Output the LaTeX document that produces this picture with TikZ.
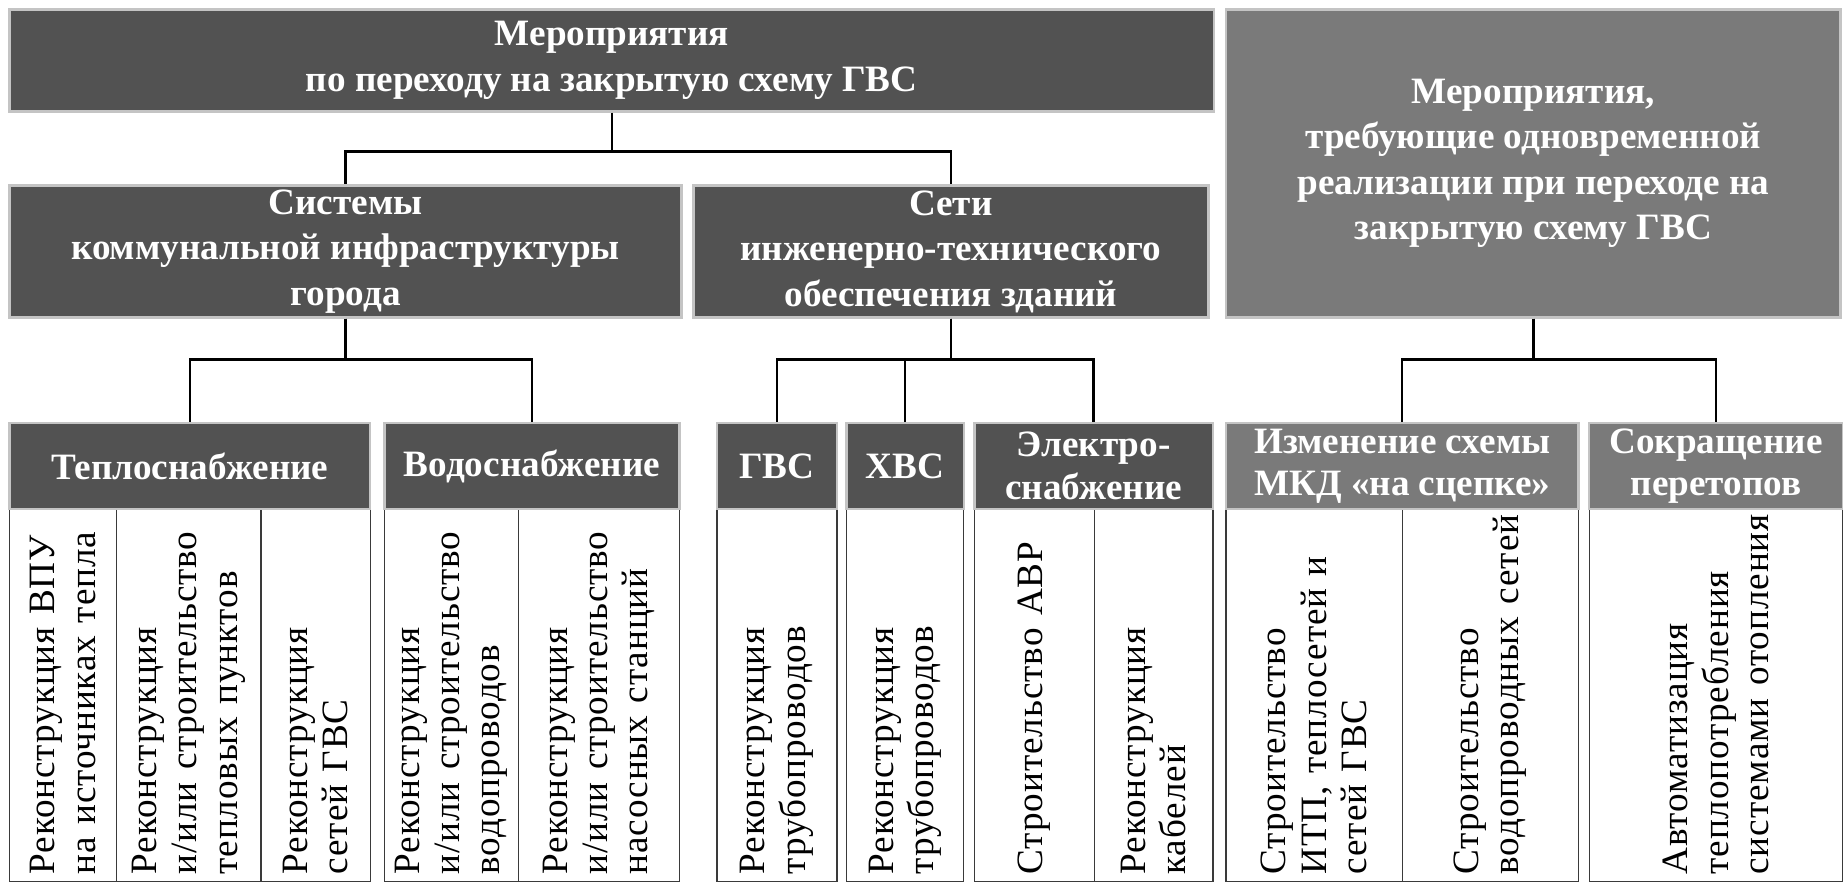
\documentclass[tikz,border=0pt]{standalone}
\usepackage{fontspec}
\setmainfont{Liberation Serif}
\newfontfamily\spacedserif[LetterSpace=2.5]{Liberation Serif}
\usepackage{xcolor}

\definecolor{boxdark}{HTML}{525252}
\definecolor{boxgrey}{HTML}{7A7A7A}
\definecolor{boxrim}{HTML}{C4C4C4}
\definecolor{colline}{HTML}{3A3A3A}

\tikzset{
	mainbox/.style={rectangle, fill=boxdark, draw=boxrim, line width=1.2pt, text=white, align=center, inner sep=0pt, font=\bfseries\fontsize{18}{22}\selectfont},
	subbox/.style={mainbox, minimum height=1.46cm, font=\bfseries\fontsize{18}{20.5}\selectfont},
	taskcol/.style={rectangle, draw=colline, line width=0.6pt, fill=white, rotate=90, minimum width=6.34cm, inner xsep=0.12cm, inner ysep=0pt, text width=6.1cm, align=left, font=\spacedserif\fontsize{18}{19.5}\selectfont},
	link/.style={line width=1.2pt},
}

\begin{document}
\begin{tikzpicture}
	\useasboundingbox (0, 0) rectangle (31.36, 15);

	% Top level
	\node[mainbox, minimum width=20.5cm, minimum height=1.74cm] (top) at (10.41, 13.97) {Мероприятия\\по переходу на закрытую схему ГВС};
	\node[mainbox, fill=boxgrey, minimum width=10.46cm, minimum height=5.24cm] (extra) at (26.09, 12.22) {Мероприятия,\\требующие одновременной\\реализации при переходе на\\закрытую схему ГВС};

	% Second level
	\node[mainbox, minimum width=11.44cm, minimum height=2.24cm] (sys) at (5.88, 10.72) {Системы\\коммунальной инфраструктуры\\города};
	\node[mainbox, minimum width=8.76cm, minimum height=2.24cm] (net) at (16.18, 10.72) {Сети\\инженерно-технического\\обеспечения зданий};

	% Columns of measures
	\node[taskcol, minimum height=1.82cm] (t1) at (1.07, 3.17) {Реконструкция~ВПУ\\на~источниках~тепла};
	\node[taskcol, minimum height=2.46cm] (t2) at (3.21, 3.17) {Реконструкция\\и/или~строительство\\тепловых~пунктов};
	\node[taskcol, minimum height=1.86cm] (t3) at (5.37, 3.17) {Реконструкция\\сетей~ГВС};
	\node[taskcol, minimum height=2.28cm] (v1) at (7.68, 3.17) {Реконструкция\\и/или~строительство\\водопроводов};
	\node[taskcol, minimum height=2.74cm] (v2) at (10.19, 3.17) {Реконструкция\\и/или~строительство\\насосных~станций};
	\node[taskcol, minimum height=2.04cm] (g1) at (13.22, 3.17) {Реконструкция\\трубопроводов};
	\node[taskcol, minimum height=2.00cm] (h1) at (15.40, 3.17) {Реконструкция\\трубопроводов};
	\node[taskcol, minimum height=2.04cm] (e1) at (17.60, 3.17) {Строительство~АВР};
	\node[taskcol, minimum height=2.02cm] (e2) at (19.63, 3.17) {Реконструкция\\кабелей};
	\node[taskcol, minimum height=3.00cm] (i1) at (22.36, 3.17) {Строительство\\ИТП,~теплосетей~и\\сетей~ГВС};
	\node[taskcol, minimum height=3.00cm] (i2) at (25.36, 3.17) {Строительство\\водопроводных~сетей};
	\node[taskcol, minimum height=4.32cm] (s1) at (29.20, 3.17) {Автоматизация\\теплопотребления\\системами~отопления};

	% Third level
	\node[subbox, minimum width=6.14cm] (heat) at (3.23, 7.07) {Теплоснабжение};
	\node[subbox, minimum width=5.02cm] (water) at (9.05, 7.07) {Водоснабжение};
	\node[subbox, minimum width=2.04cm] (hot) at (13.22, 7.07) {ГВС};
	\node[subbox, minimum width=2.00cm] (cold) at (15.40, 7.07) {ХВС};
	\node[subbox, minimum width=4.06cm] (power) at (18.61, 7.07) {Электро-\\снабжение};
	\node[subbox, fill=boxgrey, minimum width=6.00cm] (link1) at (23.86, 7.07) {Изменение схемы\\МКД «на сцепке»};
	\node[subbox, fill=boxgrey, minimum width=4.32cm] (cut) at (29.20, 7.07) {Сокращение\\перетопов};

	% Connectors
	\draw[link] (top.south) -- ++(0, -0.66) -| (sys.north);
	\draw[link] (top.south) -- ++(0, -0.66) -| (net.north);
	\draw[link] (sys.south) -- ++(0, -0.7) -| (heat.north);
	\draw[link] (sys.south) -- ++(0, -0.7) -| (water.north);
	\draw[link] (net.south) -- ++(0, -0.7) -| (hot.north);
	\draw[link] (net.south) -- ++(0, -0.7) -| (cold.north);
	\draw[link] (net.south) -- ++(0, -0.7) -| (power.north);
	\draw[link] (extra.south) -- ++(0, -0.7) -| (link1.north);
	\draw[link] (extra.south) -- ++(0, -0.7) -| (cut.north);
\end{tikzpicture}
\end{document}
